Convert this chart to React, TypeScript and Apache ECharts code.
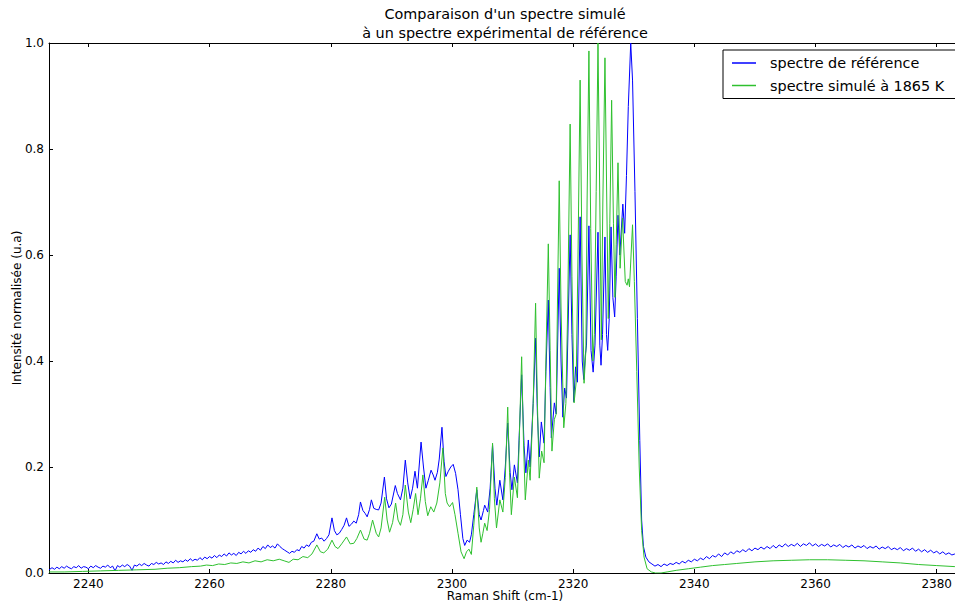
import React, { useEffect, useRef } from "react";
import * as echarts from "echarts";

const TITLE_LINES = ["Comparaison d'un spectre simulé", "à un spectre expérimental de référence"];
const X_NAME = "Raman Shift (cm-1)";
const Y_NAME = "Intensité normalisée (u.a)";
const REF_NAME = "spectre de référence";
const SIM_NAME = "spectre simulé à 1865 K";

const X_TICKS = [2240, 2260, 2280, 2300, 2320, 2340, 2360, 2380];
const Y_TICKS = [0, 0.2, 0.4, 0.6, 0.8, 1.0];

// reference (experimental) spectrum: [Raman shift, normalised intensity]
const refLow: [number, number][] = [
  [2233.5, 0.006], [2234.0, 0.010], [2234.4, 0.007], [2234.8, 0.011], [2235.2, 0.008], [2235.6, 0.012],
  [2236.0, 0.009], [2236.4, 0.013], [2236.8, 0.010], [2237.2, 0.008], [2237.6, 0.012], [2238.0, 0.010],
  [2238.4, 0.014], [2238.8, 0.009], [2239.2, 0.012], [2239.6, 0.011], [2240.0, 0.008], [2240.4, 0.013],
  [2240.8, 0.010], [2241.2, 0.014], [2241.6, 0.011], [2242.0, 0.009], [2242.4, 0.013], [2242.8, 0.011],
  [2243.2, 0.015], [2243.6, 0.010], [2244.0, 0.013], [2244.4, 0.004], [2244.8, 0.014], [2245.2, 0.011],
  [2245.6, 0.015], [2246.0, 0.012], [2246.4, 0.016], [2246.8, 0.013], [2247.2, 0.005], [2247.6, 0.015],
  [2248.0, 0.013], [2248.4, 0.017], [2248.8, 0.014], [2249.2, 0.018], [2249.6, 0.015], [2250.0, 0.013],
  [2250.4, 0.018], [2250.8, 0.016], [2251.2, 0.020], [2251.6, 0.017], [2252.0, 0.019], [2252.4, 0.016],
  [2252.8, 0.021], [2253.2, 0.018], [2253.6, 0.022], [2254.0, 0.019], [2254.4, 0.024], [2254.8, 0.020],
  [2255.2, 0.023], [2255.6, 0.021], [2256.0, 0.025], [2256.4, 0.022], [2256.8, 0.027], [2257.2, 0.023],
  [2257.6, 0.026], [2258.0, 0.024], [2258.4, 0.029], [2258.8, 0.025], [2259.2, 0.030], [2259.6, 0.027],
  [2260.0, 0.031], [2260.4, 0.028], [2260.8, 0.033], [2261.2, 0.029], [2261.6, 0.034], [2262.0, 0.031],
  [2262.4, 0.036], [2262.8, 0.032], [2263.2, 0.038], [2263.6, 0.034], [2264.0, 0.037], [2264.4, 0.033],
  [2264.8, 0.039], [2265.2, 0.036], [2265.6, 0.041], [2266.0, 0.037], [2266.4, 0.042], [2266.8, 0.039],
  [2267.2, 0.044], [2267.6, 0.041], [2268.0, 0.047], [2268.4, 0.043], [2268.8, 0.050], [2269.2, 0.046],
  [2269.6, 0.053], [2270.0, 0.048], [2270.4, 0.051], [2270.8, 0.047], [2271.2, 0.055], [2271.6, 0.050],
  [2272.0, 0.046], [2272.4, 0.043], [2272.8, 0.040], [2273.2, 0.037], [2273.6, 0.041], [2274.0, 0.039],
  [2274.4, 0.044], [2274.8, 0.042], [2275.2, 0.050], [2275.6, 0.047], [2276.0, 0.053], [2276.4, 0.050],
  [2276.8, 0.058], [2277.2, 0.060], [2277.7, 0.074], [2278.1, 0.064], [2278.5, 0.066], [2278.9, 0.060],
  [2279.3, 0.065], [2279.7, 0.072],
];

const refPeaks: [number, number][] = [
  [2280.2, 0.104], [2280.6, 0.080], [2281.0, 0.072], [2281.4, 0.075], [2281.8, 0.082], [2282.2, 0.090],
  [2282.6, 0.104], [2283.0, 0.088], [2283.4, 0.092], [2283.8, 0.098], [2284.2, 0.094], [2284.6, 0.110],
  [2284.9, 0.134], [2285.3, 0.118], [2285.7, 0.112], [2286.0, 0.106], [2286.4, 0.120], [2286.7, 0.138],
  [2287.1, 0.122], [2287.5, 0.120], [2287.9, 0.119], [2288.3, 0.132], [2288.85, 0.181], [2289.2, 0.140],
  [2289.6, 0.123], [2290.0, 0.130], [2290.65, 0.165], [2291.0, 0.150], [2291.5, 0.138], [2291.9, 0.160],
  [2292.3, 0.213], [2292.7, 0.170], [2293.1, 0.140], [2293.5, 0.160], [2293.9, 0.192], [2294.3, 0.160],
  [2294.9, 0.247], [2295.3, 0.200], [2295.7, 0.160], [2296.1, 0.175], [2296.55, 0.194], [2296.9, 0.185],
  [2297.2, 0.175], [2297.6, 0.190], [2297.9, 0.215], [2298.35, 0.275], [2298.7, 0.210], [2299.0, 0.182],
  [2299.4, 0.192], [2299.8, 0.200], [2300.2, 0.205], [2300.6, 0.188], [2301.0, 0.157], [2301.4, 0.110],
  [2301.8, 0.065], [2302.1, 0.052], [2302.5, 0.062], [2302.9, 0.058], [2303.2, 0.072], [2303.6, 0.110],
  [2304.1, 0.157], [2304.5, 0.110], [2304.8, 0.100], [2305.2, 0.118], [2305.4, 0.128], [2305.9, 0.115],
  [2306.3, 0.160], [2306.7, 0.242], [2307.1, 0.160], [2307.4, 0.128], [2307.9, 0.175], [2308.4, 0.138],
  [2308.8, 0.200], [2309.2, 0.283], [2309.6, 0.190], [2309.9, 0.157], [2310.3, 0.204], [2310.8, 0.170],
  [2311.1, 0.260], [2311.5, 0.374], [2311.9, 0.240], [2312.2, 0.189], [2312.6, 0.251], [2312.9, 0.200],
  [2313.4, 0.320], [2313.8, 0.443], [2314.1, 0.300], [2314.4, 0.219], [2314.75, 0.285], [2315.2, 0.245],
  [2315.5, 0.380], [2315.9, 0.515], [2316.2, 0.350], [2316.4, 0.255], [2316.9, 0.321], [2317.2, 0.300],
  [2317.7, 0.575], [2318.0, 0.400], [2318.3, 0.294], [2318.6, 0.349], [2318.9, 0.330], [2319.5, 0.638],
  [2319.8, 0.450], [2320.1, 0.323], [2320.4, 0.389], [2320.7, 0.360], [2321.15, 0.672], [2321.5, 0.400],
  [2321.75, 0.365], [2322.0, 0.410], [2322.2, 0.430], [2322.6, 0.655], [2322.95, 0.420], [2323.3, 0.379],
  [2323.6, 0.430], [2324.1, 0.643], [2324.4, 0.430], [2324.6, 0.392], [2324.85, 0.450], [2325.25, 0.634],
  [2325.5, 0.450], [2325.7, 0.420], [2325.95, 0.480], [2326.25, 0.653], [2326.55, 0.520], [2326.85, 0.483],
  [2327.1, 0.560], [2327.4, 0.675], [2327.7, 0.600], [2328.2, 0.696], [2328.5, 0.641], [2328.8, 0.750],
  [2329.1, 0.880], [2329.5, 1.000], [2329.8, 0.930], [2330.2, 0.720], [2330.6, 0.480], [2331.0, 0.250],
  [2331.3, 0.100], [2331.6, 0.050],
];

const refHigh: [number, number][] = [
  [2332.0, 0.030], [2332.5, 0.021], [2333.0, 0.017], [2333.5, 0.013], [2334.0, 0.016], [2334.5, 0.012],
  [2335.0, 0.017], [2335.5, 0.014], [2336.0, 0.018], [2336.5, 0.016], [2337.0, 0.020], [2337.5, 0.017],
  [2338.0, 0.022], [2338.5, 0.019], [2339.0, 0.024], [2339.5, 0.021], [2340.0, 0.026], [2340.5, 0.023],
  [2341.0, 0.028], [2341.5, 0.025], [2342.0, 0.031], [2342.5, 0.027], [2343.0, 0.033], [2343.5, 0.030],
  [2344.0, 0.036], [2344.5, 0.031], [2345.0, 0.038], [2345.5, 0.034], [2346.0, 0.040], [2346.5, 0.036],
  [2347.0, 0.042], [2347.5, 0.039], [2348.0, 0.044], [2348.5, 0.040], [2349.0, 0.046], [2349.5, 0.042],
  [2350.0, 0.047], [2350.5, 0.044], [2351.0, 0.049], [2351.5, 0.045], [2352.0, 0.050], [2352.5, 0.046],
  [2353.0, 0.052], [2353.5, 0.047], [2354.0, 0.053], [2354.5, 0.049], [2355.0, 0.055], [2355.5, 0.050],
  [2356.0, 0.054], [2356.5, 0.051], [2357.0, 0.056], [2357.5, 0.050], [2358.0, 0.055], [2358.5, 0.052],
  [2359.0, 0.057], [2359.5, 0.051], [2360.0, 0.055], [2360.5, 0.050], [2361.0, 0.054], [2361.5, 0.051],
  [2362.0, 0.055], [2362.5, 0.049], [2363.0, 0.053], [2363.5, 0.050], [2364.0, 0.054], [2364.5, 0.048],
  [2365.0, 0.052], [2365.5, 0.049], [2366.0, 0.053], [2366.5, 0.047], [2367.0, 0.051], [2367.5, 0.048],
  [2368.0, 0.052], [2368.5, 0.046], [2369.0, 0.050], [2369.5, 0.047], [2370.0, 0.051], [2370.5, 0.045],
  [2371.0, 0.049], [2371.5, 0.046], [2372.0, 0.050], [2372.5, 0.044], [2373.0, 0.047], [2373.5, 0.044],
  [2374.0, 0.048], [2374.5, 0.042], [2375.0, 0.046], [2375.5, 0.043], [2376.0, 0.047], [2376.5, 0.041],
  [2377.0, 0.045], [2377.5, 0.040], [2378.0, 0.044], [2378.5, 0.039], [2379.0, 0.043], [2379.5, 0.038],
  [2380.0, 0.041], [2380.5, 0.036], [2381.0, 0.040], [2381.5, 0.035], [2382.0, 0.038], [2382.5, 0.034],
  [2383.0, 0.036],
];

// simulated spectrum at 1865 K
const simLow: [number, number][] = [
  [2233.5, 0.002], [2236.0, 0.002], [2239.0, 0.003], [2242.0, 0.004], [2245.0, 0.005], [2248.0, 0.006],
  [2251.0, 0.007], [2253.0, 0.009], [2255.0, 0.010], [2257.0, 0.012], [2258.5, 0.013], [2259.5, 0.015],
  [2260.5, 0.014], [2261.5, 0.017], [2262.5, 0.016], [2263.5, 0.019], [2264.5, 0.018], [2265.5, 0.021],
  [2266.5, 0.019], [2267.5, 0.023], [2268.5, 0.021], [2269.5, 0.025], [2270.5, 0.023], [2271.5, 0.026],
  [2272.3, 0.023], [2273.1, 0.020], [2273.8, 0.026], [2274.6, 0.025], [2275.4, 0.031], [2276.2, 0.029],
  [2276.9, 0.036], [2277.7, 0.053], [2278.3, 0.040], [2278.85, 0.038], [2279.5, 0.045],
];

const simPeaks: [number, number][] = [
  [2280.2, 0.062], [2280.7, 0.050], [2281.2, 0.046], [2281.8, 0.055], [2282.6, 0.068], [2283.2, 0.055],
  [2283.8, 0.056], [2284.3, 0.065], [2284.9, 0.081], [2285.5, 0.064], [2286.0, 0.062], [2286.4, 0.075],
  [2286.9, 0.100], [2287.5, 0.075], [2287.9, 0.068], [2288.3, 0.085], [2288.9, 0.143], [2289.3, 0.100],
  [2289.7, 0.077], [2290.2, 0.095], [2290.7, 0.132], [2291.1, 0.100], [2291.5, 0.090], [2291.9, 0.110],
  [2292.3, 0.166], [2292.8, 0.115], [2293.2, 0.095], [2293.6, 0.120], [2294.0, 0.150], [2294.4, 0.110],
  [2294.8, 0.140], [2295.2, 0.185], [2295.6, 0.135], [2296.0, 0.108], [2296.5, 0.125], [2297.0, 0.115],
  [2297.5, 0.132], [2298.0, 0.170], [2298.5, 0.236], [2298.9, 0.150], [2299.2, 0.132], [2299.6, 0.125],
  [2300.1, 0.133], [2300.5, 0.110], [2301.0, 0.075], [2301.5, 0.040], [2302.0, 0.027], [2302.4, 0.040],
  [2302.8, 0.045], [2303.2, 0.035], [2303.6, 0.090], [2304.1, 0.162], [2304.5, 0.085], [2304.8, 0.058],
  [2305.1, 0.075], [2305.4, 0.094], [2305.8, 0.080], [2306.2, 0.120], [2306.7, 0.245], [2307.0, 0.140],
  [2307.35, 0.085], [2307.9, 0.138], [2308.4, 0.115], [2308.8, 0.180], [2309.2, 0.313], [2309.5, 0.190],
  [2309.8, 0.110], [2310.3, 0.181], [2310.8, 0.142], [2311.1, 0.250], [2311.5, 0.408], [2311.8, 0.250],
  [2312.1, 0.138], [2312.6, 0.213], [2312.9, 0.175], [2313.4, 0.320], [2313.8, 0.509], [2314.1, 0.320],
  [2314.4, 0.179], [2314.8, 0.230], [2315.2, 0.208], [2315.5, 0.400], [2315.9, 0.621], [2316.2, 0.420],
  [2316.5, 0.230], [2316.9, 0.290], [2317.2, 0.300], [2317.4, 0.500], [2317.7, 0.740], [2318.0, 0.500],
  [2318.45, 0.274], [2318.8, 0.320], [2319.1, 0.500], [2319.5, 0.847], [2319.8, 0.560], [2320.15, 0.321],
  [2320.5, 0.360], [2320.8, 0.600], [2321.15, 0.930], [2321.45, 0.600], [2321.8, 0.358], [2322.1, 0.420],
  [2322.3, 0.700], [2322.6, 0.985], [2322.9, 0.650], [2323.25, 0.400], [2323.5, 0.450], [2323.8, 0.720],
  [2324.1, 1.000], [2324.4, 0.700], [2324.65, 0.440], [2324.9, 0.700], [2325.25, 0.972], [2325.55, 0.700],
  [2325.8, 0.480], [2326.05, 0.660], [2326.35, 0.892], [2326.65, 0.660], [2326.9, 0.520], [2327.1, 0.620],
  [2327.4, 0.774], [2327.75, 0.575], [2328.15, 0.670], [2328.6, 0.550], [2328.9, 0.543], [2329.1, 0.555],
  [2329.3, 0.540], [2329.8, 0.657], [2330.1, 0.550], [2330.5, 0.380], [2330.9, 0.200], [2331.3, 0.080],
  [2331.7, 0.030],
];

const simHigh: [number, number][] = [
  [2332.2, 0.008], [2332.9, 0.002], [2333.6, 0.000], [2334.5, 0.000], [2335.5, 0.002], [2337.0, 0.005],
  [2339.0, 0.008], [2341.0, 0.011], [2343.0, 0.014], [2345.0, 0.016], [2347.0, 0.018], [2350.0, 0.021],
  [2353.0, 0.023], [2356.0, 0.024], [2359.0, 0.025], [2362.0, 0.025], [2365.0, 0.024], [2368.0, 0.023],
  [2371.0, 0.021], [2374.0, 0.019], [2377.0, 0.016], [2380.0, 0.014], [2383.0, 0.012],
];

const FONT = '"DejaVu Sans", "Liberation Sans", sans-serif';
const BLUE = "#0000ff";
const GREEN = "#2fc02f";

export default function App() {
  const ref = useRef<HTMLDivElement>(null);
  useEffect(() => {
    if (!ref.current) return;
    const chart = echarts.init(ref.current, undefined, { renderer: "svg" });
    const refData = [...refLow, ...refPeaks, ...refHigh];
    const simData = [...simLow, ...simPeaks, ...simHigh];
    const axisCommon = {
      type: "value" as const,
      min: 2233.5,
      max: 2383.0,
      splitNumber: 7,
      splitLine: { show: false },
      axisLine: { show: true, onZero: false, lineStyle: { color: "#000", width: 1 } },
    };
    chart.setOption({
      animation: false,
      backgroundColor: "#fff",
      grid: { left: 49, right: -6, top: 43, bottom: 32, containLabel: false },
      legend: {
        orient: "vertical",
        left: 723,
        top: 50,
        padding: [5, 60, 5, 9],
        itemGap: 6.5,
        itemWidth: 24,
        itemHeight: 1.5,
        icon: "rect",
        borderColor: "#000",
        borderWidth: 1,
        backgroundColor: "#fff",
        textStyle: { fontFamily: FONT, fontSize: 14.4, color: "#000", lineHeight: 16, padding: [0, 0, 0, 9] },
        data: [REF_NAME, SIM_NAME],
      },
      xAxis: [
        {
          ...axisCommon,
          position: "bottom",
          axisTick: { show: true, inside: true, length: 4, customValues: X_TICKS, lineStyle: { color: "#000" } },
          axisLabel: {
            show: true,
            customValues: X_TICKS,
            margin: 5,
            fontFamily: FONT,
            fontSize: 12,
            color: "#000",
            formatter: (v: number) => String(v),
          },
        },
        {
          ...axisCommon,
          position: "top",
          axisTick: { show: true, inside: true, length: 4, customValues: X_TICKS, lineStyle: { color: "#000" } },
          axisLabel: { show: false },
        },
      ],
      yAxis: [
        {
          type: "value",
          min: 0,
          max: 1,
          interval: 0.2,
          splitLine: { show: false },
          axisLine: { show: true, onZero: false, lineStyle: { color: "#000", width: 1 } },
          axisTick: { show: true, inside: true, length: 4, customValues: Y_TICKS, lineStyle: { color: "#000" } },
          axisLabel: {
            margin: 5,
            customValues: Y_TICKS,
            fontFamily: FONT,
            fontSize: 12,
            color: "#000",
            formatter: (v: number) => v.toFixed(1),
          },
        },
      ],
      graphic: [
        {
          type: "text",
          x: 505,
          y: 14,
          style: { text: TITLE_LINES[0], font: `14.4px ${FONT}`, fill: "#000", align: "center", verticalAlign: "middle" },
        },
        {
          type: "text",
          x: 505,
          y: 33,
          style: { text: TITLE_LINES[1], font: `14.4px ${FONT}`, fill: "#000", align: "center", verticalAlign: "middle" },
        },
        {
          type: "text",
          x: 505,
          y: 596,
          style: { text: X_NAME, font: `12px ${FONT}`, fill: "#000", align: "center", verticalAlign: "middle" },
        },
        {
          type: "text",
          x: 17,
          y: 308,
          rotation: Math.PI / 2,
          style: { text: Y_NAME, font: `12px ${FONT}`, fill: "#000", align: "center", verticalAlign: "middle" },
        },
      ],
      series: [
        {
          name: REF_NAME,
          type: "line",
          data: refData,
          showSymbol: false,
          symbol: "none",
          color: BLUE,
          lineStyle: { color: BLUE, width: 1 },
          xAxisIndex: 0,
          yAxisIndex: 0,
          clip: true,
          z: 2,
        },
        {
          name: SIM_NAME,
          type: "line",
          data: simData,
          showSymbol: false,
          symbol: "none",
          color: GREEN,
          lineStyle: { color: GREEN, width: 1 },
          xAxisIndex: 0,
          yAxisIndex: 0,
          clip: true,
          z: 3,
        },
      ],
    });
    return () => chart.dispose();
  }, []);
  return <div ref={ref} style={{ position: "fixed", left: 0, top: 0, width: 955, height: 605 }} />;
}
